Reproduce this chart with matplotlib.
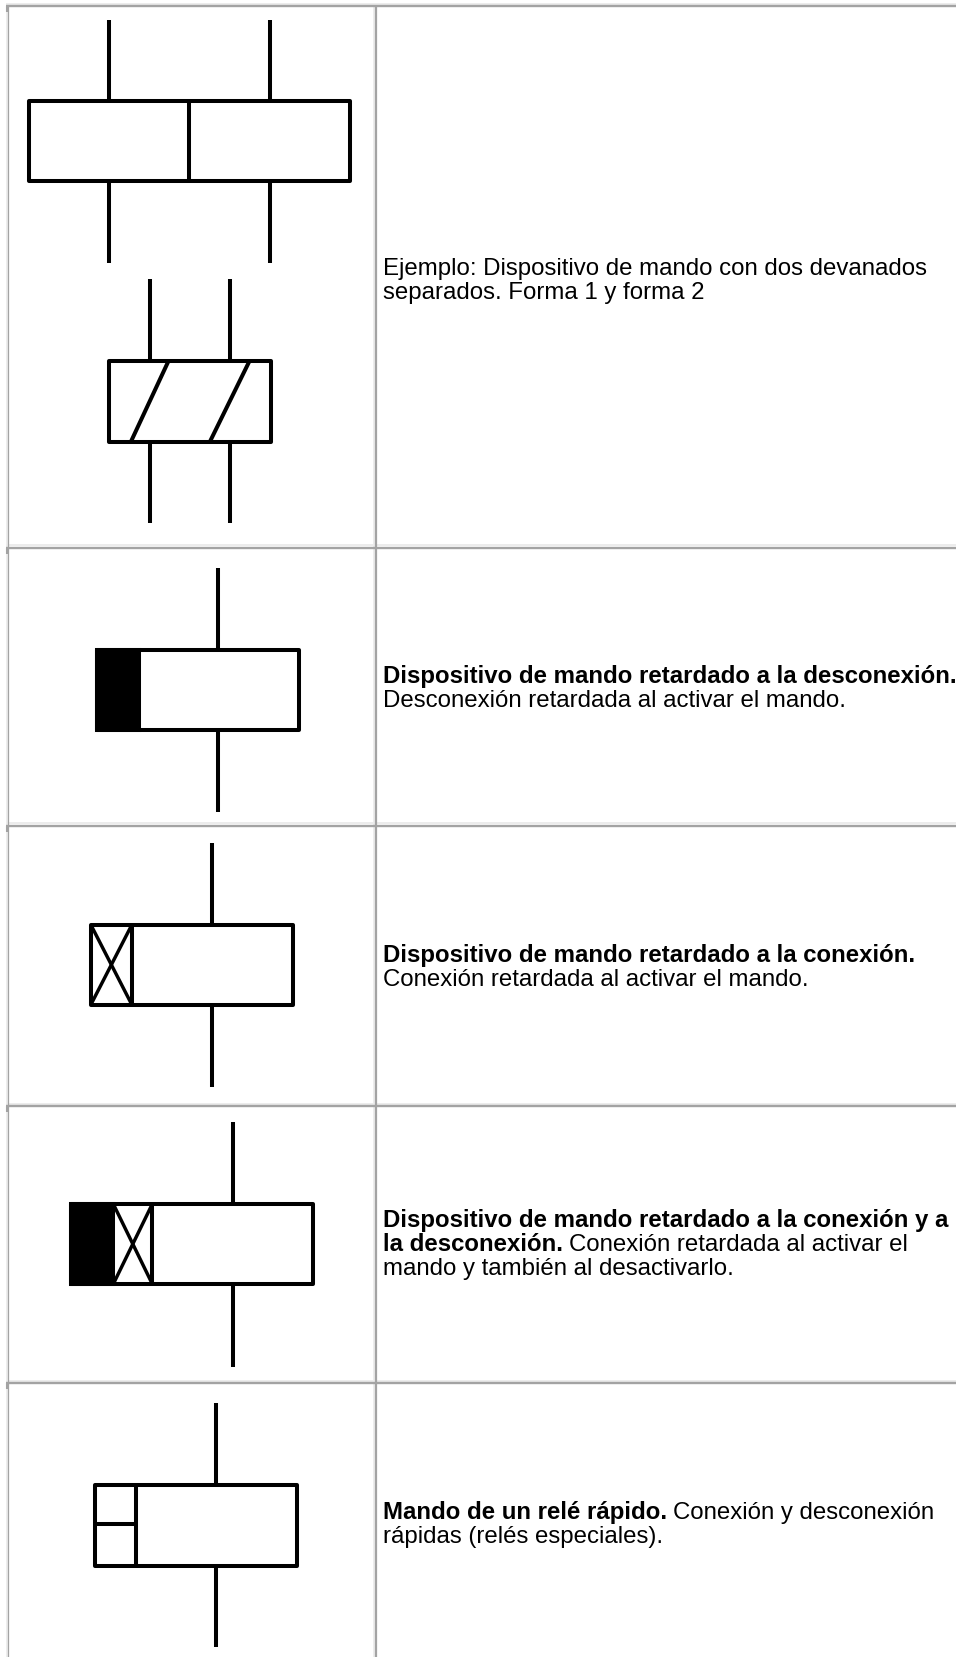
import matplotlib
matplotlib.use("Agg")
from matplotlib import pyplot as plt
from matplotlib.patches import Rectangle

# table grid, in pixels of the picture
grid_x = [8.2, 376]
grid_y = [6.2, 547.5, 825.5, 1106, 1383]
grid_color = '#a3a3a3'
band_color = '#ececec'

# relay symbols: stems x, stem top, box top, box bottom, stem bottom, box left, box right
sym_stems = [[109.5, 270], [150, 230.5], [218.5], [212.5], [232.8], [216.5]]
sym_top = [20, 278.5, 567.5, 842.5, 1122, 1403]
sym_box_top = [101, 361, 649.5, 924.5, 1204, 1485]
sym_box_bot = [181, 441.5, 730, 1005, 1284, 1565.5]
sym_bot = [262.5, 523, 812, 1087, 1366.5, 1647]
sym_left = [28.7, 108.7, 96.7, 90.7, 70.7, 95]
sym_right = [350, 271, 299, 292.7, 313, 296.7]

# inner parts of the symbols
dividers = [(0, 189.5), (3, 132), (4, 152.3), (5, 135.7)]
filled = [(2, 138.7), (4, 113.3)]
crossed = [(3, 90.7, 132), (4, 113.3, 152.3)]
slashes = [(1, 168.5, 131), (1, 249.5, 210)]
split_row = (5, 135.7, 1524)

# text of the right column: (bold part, plain part) for each line, and its baseline
text_x = 383
text_lines = [
    ("", "Ejemplo: Dispositivo de mando con dos devanados", 275),
    ("", "separados. Forma 1 y forma 2", 299),
    ("Dispositivo de mando retardado a la desconexión.", "", 683),
    ("", "Desconexión retardada al activar el mando.", 707),
    ("Dispositivo de mando retardado a la conexión.", "", 962),
    ("", "Conexión retardada al activar el mando.", 986),
    ("Dispositivo de mando retardado a la conexión y a", "", 1227),
    ("la desconexión.", " Conexión retardada al activar el", 1251),
    ("", "mando y también al desactivarlo.", 1275),
    ("Mando de un relé rápido.", " Conexión y desconexión", 1519),
    ("", "rápidas (relés especiales).", 1543),
]

plt.rcParams['font.family'] = ['Liberation Sans', 'DejaVu Sans']
fig = plt.figure(figsize=(9.56, 16.57), dpi=100)
ax = fig.add_axes([0, 0, 1, 1])
ax.set_xlim(0, 956)
ax.set_ylim(1657, 0)
ax.axis('off')

# grid, each line has a pale band on its upper or left side
for y in grid_y:
    ax.plot([6, 956], [y - 2.2, y - 2.2], color=band_color, linewidth=1.4, solid_capstyle='butt')
ax.plot([6.9, 6.9], [grid_y[0], 1657], color=band_color, linewidth=1.3, solid_capstyle='butt')
ax.plot([374.2, 374.2], [grid_y[0], 1657], color=band_color, linewidth=1.3, solid_capstyle='butt')
for y in grid_y:
    ax.plot([6, 956], [y, y], color=grid_color, linewidth=1.7, solid_capstyle='butt')
    ax.plot([7, 7], [y, y + 6], color=grid_color, linewidth=1.5, solid_capstyle='butt')
ax.plot([grid_x[0], grid_x[0]], [grid_y[0], 1657], color=grid_color, linewidth=0.9, solid_capstyle='butt')
ax.plot([grid_x[1], grid_x[1]], [grid_y[0], 1657], color=grid_color, linewidth=1.6, solid_capstyle='butt')

lw = 2.9
black = '#000000'
for i in range(len(sym_top)):
    for x in sym_stems[i]:
        ax.plot([x, x], [sym_top[i], sym_box_top[i]], color=black, linewidth=lw, solid_capstyle='butt')
        ax.plot([x, x], [sym_box_bot[i], sym_bot[i]], color=black, linewidth=lw, solid_capstyle='butt')
    ax.add_patch(Rectangle((sym_left[i], sym_box_top[i]), sym_right[i] - sym_left[i],
                           sym_box_bot[i] - sym_box_top[i], fill=False, edgecolor=black, linewidth=lw,
                           joinstyle='round'))

for i, x in dividers:
    ax.plot([x, x], [sym_box_top[i], sym_box_bot[i]], color=black, linewidth=lw, solid_capstyle='butt')
for i, x in filled:
    ax.add_patch(Rectangle((sym_left[i], sym_box_top[i]), x - sym_left[i],
                           sym_box_bot[i] - sym_box_top[i], facecolor=black, edgecolor=black, linewidth=lw))
for i, x0, x1 in crossed:
    ax.plot([x0, x1], [sym_box_top[i], sym_box_bot[i]], color=black, linewidth=lw * 0.85, solid_capstyle='butt')
    ax.plot([x0, x1], [sym_box_bot[i], sym_box_top[i]], color=black, linewidth=lw * 0.85, solid_capstyle='butt')
for i, xt, xb in slashes:
    ax.plot([xt, xb], [sym_box_top[i], sym_box_bot[i]], color=black, linewidth=lw, solid_capstyle='butt')
ax.plot([sym_left[split_row[0]], split_row[1]], [split_row[2], split_row[2]], color=black, linewidth=lw,
        solid_capstyle='butt')

# text
fig.canvas.draw()
renderer = fig.canvas.get_renderer()
fs = 17.25
for bold, plain, y in text_lines:
    x = text_x
    if bold:
        t = ax.text(x, y, bold, fontsize=fs, fontweight='bold', color='#000000', va='baseline', ha='left')
        x = ax.transData.inverted().transform((t.get_window_extent(renderer).x1, 0))[0]
    if plain:
        if plain.startswith(" "):
            x += 6
        ax.text(x, y, plain.strip(), fontsize=fs, color='#000000', va='baseline', ha='left')

fig.savefig("out.png", dpi=100, facecolor='white')
